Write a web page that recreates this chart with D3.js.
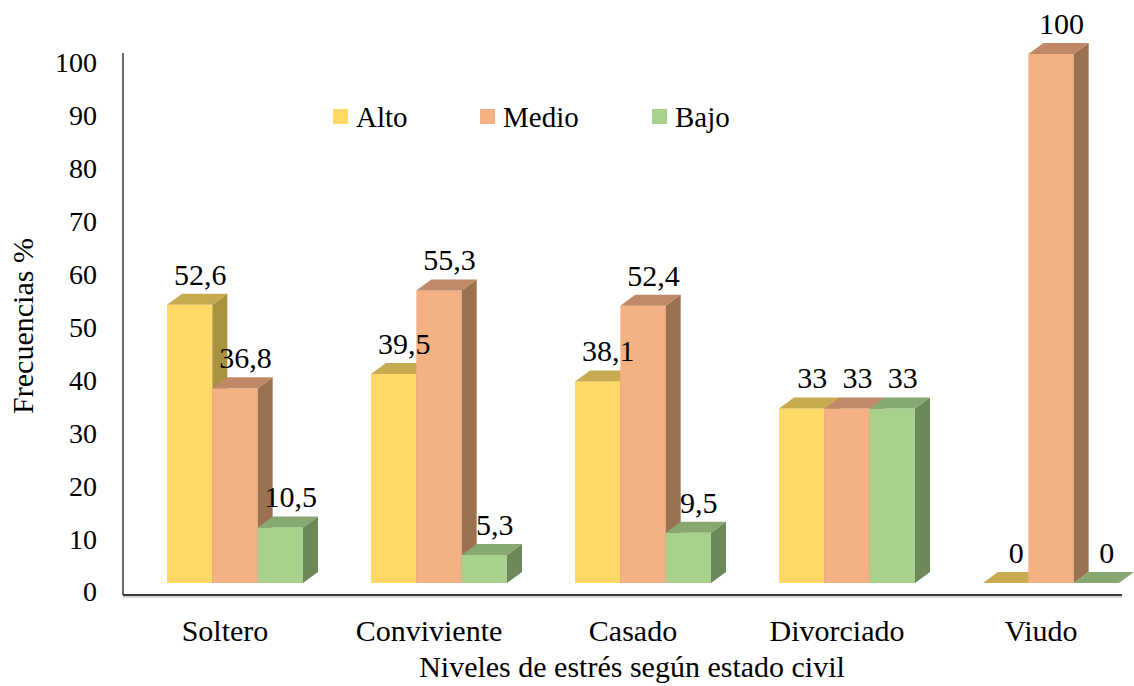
<!DOCTYPE html>
<html>
<head>
<meta charset="utf-8">
<script src="https://cdn.jsdelivr.net/npm/d3@7"></script>
<style>
  html, body { margin: 0; padding: 0; background: #ffffff; }
  svg { display: block; }
  text { font-family: "Liberation Serif", "Times New Roman", serif; fill: #000; }
</style>
</head>
<body>
<svg id="chart" width="1134" height="686"></svg>
<script>
// ---- data ----
const categories = ["Soltero", "Conviviente", "Casado", "Divorciado", "Viudo"];
const seriesNames = ["Alto", "Medio", "Bajo"];
const alto  = [52.6, 39.5, 38.1, 33, 0];
const medio = [36.8, 55.3, 52.4, 33, 100];
const bajo  = [10.5, 5.3, 9.5, 33, 0];
const yTicks = [0, 10, 20, 30, 40, 50, 60, 70, 80, 90, 100];
const xTitle = "Niveles de estrés según estado civil";
const yTitle = "Frecuencias %";

// ---- styles ----
const colors = {
  Alto:  { front: "#FFD966", top: "#C8AB50", side: "#A8923F" },
  Medio: { front: "#F4B183", top: "#BF8867", side: "#9C7150" },
  Bajo:  { front: "#A9D18E", top: "#87A870", side: "#6C8858" }
};
const FS_TICK = 28, FS_CAT = 30, FS_TITLE = 30, FS_LABEL = 30, FS_LEG = 29;
const depthX = 15, depthY = 11;

const svg = d3.select("#chart");
const values = { Alto: alto, Medio: medio, Bajo: bajo };

const x = d3.scaleBand().domain(categories).range([133, 1153])
  .paddingInner(1 / 3).paddingOuter(1 / 6);
const xs = d3.scaleBand().domain(seriesNames).range([0, x.bandwidth()]).padding(0);
const y = d3.scaleLinear().domain([0, 100]).range([583, 54]);

// axes lines
const axisX0 = 123, axisBottom = 595;
svg.append("line").attr("x1", axisX0).attr("x2", axisX0).attr("y1", 53).attr("y2", axisBottom)
  .attr("stroke", "#3a3a3a").attr("stroke-width", 1.5);
svg.append("line").attr("x1", axisX0).attr("x2", 1122).attr("y1", axisBottom).attr("y2", axisBottom)
  .attr("stroke", "#3a3a3a").attr("stroke-width", 2);
svg.append("line").attr("x1", axisX0).attr("x2", 1122).attr("y1", axisBottom + 2).attr("y2", axisBottom + 2)
  .attr("stroke", "#b0b0b0").attr("stroke-width", 1);

// y tick labels via axis
const yAxisG = svg.append("g").attr("transform", `translate(${axisX0},9)`)
  .call(d3.axisLeft(y).tickValues(yTicks).tickSize(0).tickPadding(26).tickFormat(d3.format("d")));
yAxisG.select(".domain").remove();
yAxisG.selectAll("text").attr("font-size", FS_TICK).attr("font-family", "Liberation Serif").attr("fill", "#000");

// bars
const fmt = v => String(v).replace(".", ",");
categories.forEach((cat, ci) => {
  const g = svg.append("g");
  seriesNames.forEach(s => {
    const v = values[s][ci];
    const x0 = x(cat) + xs(s), w = xs.bandwidth();
    const yt = y(v), yb = y(0);
    const c = colors[s];
    if (v > 0) {
      g.append("rect").attr("x", x0).attr("y", yt).attr("width", w).attr("height", yb - yt)
        .attr("fill", c.front);
      g.append("polygon").attr("points", [
        [x0 + w, yt], [x0 + w + depthX, yt - depthY], [x0 + w + depthX, yb - depthY], [x0 + w, yb]
      ].map(p => p.join(",")).join(" ")).attr("fill", c.side);
    }
    g.append("polygon").attr("points", [
      [x0, yt], [x0 + depthX, yt - depthY], [x0 + w + depthX, yt - depthY], [x0 + w, yt]
    ].map(p => p.join(",")).join(" ")).attr("fill", c.top);
  });
  seriesNames.forEach(s => {
    const v = values[s][ci];
    const x0 = x(cat) + xs(s), w = xs.bandwidth();
    g.append("text").attr("x", x0 + w / 2 + depthX / 2 + 3).attr("y", y(v) - depthY - 9)
      .attr("text-anchor", "middle").attr("font-size", FS_LABEL).text(fmt(v));
  });
});

// category labels
svg.append("g").selectAll("text").data(categories).join("text")
  .attr("x", d => x(d) + x.bandwidth() / 2 - 10).attr("y", 641)
  .attr("text-anchor", "middle").attr("font-size", FS_CAT).text(d => d);

// axis titles
svg.append("text").attr("x", 632).attr("y", 677).attr("text-anchor", "middle")
  .attr("font-size", FS_TITLE).text(xTitle);
svg.append("text").attr("transform", "translate(33,326) rotate(-90)").attr("text-anchor", "middle")
  .attr("font-size", FS_TITLE).text(yTitle);

// legend
const legendX = [333, 480, 652];
const lg = svg.append("g");
seriesNames.forEach((s, i) => {
  lg.append("rect").attr("x", legendX[i]).attr("y", 109).attr("width", 15).attr("height", 15)
    .attr("fill", colors[s].front);
  lg.append("text").attr("x", legendX[i] + 23).attr("y", 127).attr("font-size", FS_LEG).text(s);
});
</script>
</body>
</html>
